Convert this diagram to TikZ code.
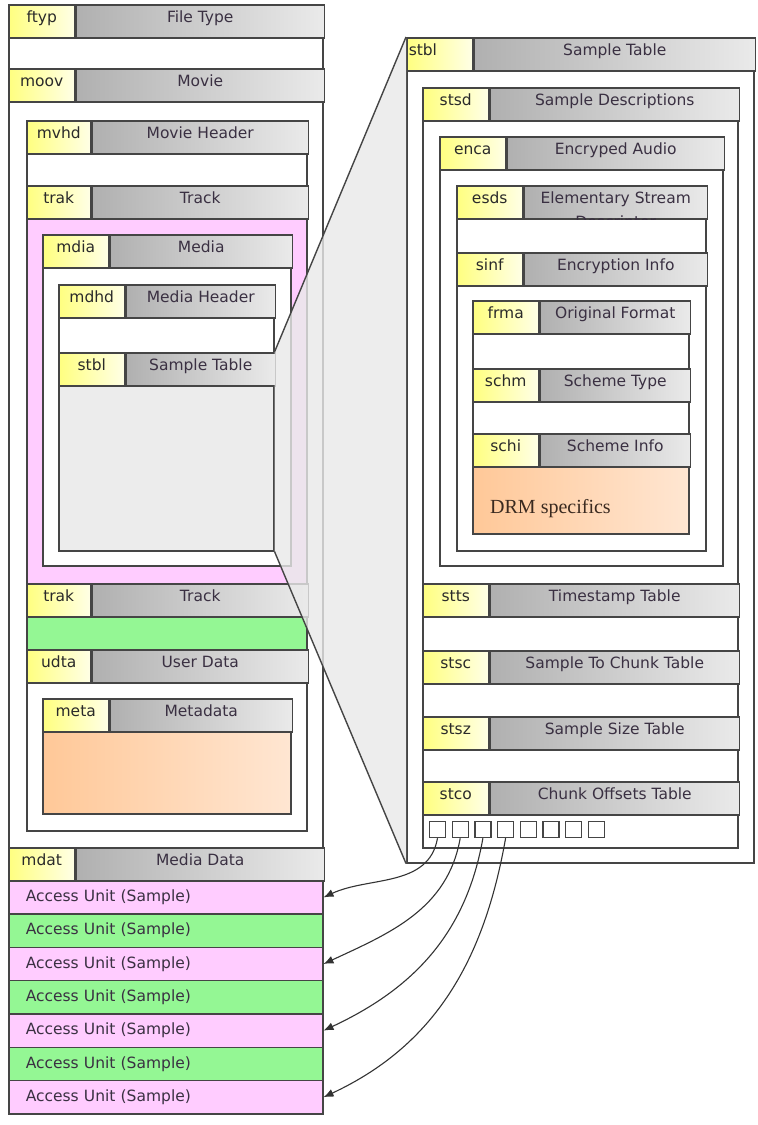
\documentclass[tikz,border=0pt]{standalone}
\usepackage{fontspec}
\setmainfont{DejaVu Sans}
\newfontfamily\drmfont{Liberation Serif}
\usetikzlibrary{arrows.meta,positioning}

\definecolor{linec}{HTML}{454545}
\definecolor{tagL}{HTML}{FFFF80}
\definecolor{tagR}{HTML}{FFFFE6}
\definecolor{headL}{HTML}{B0B0B0}
\definecolor{headR}{HTML}{EAEAEA}
\definecolor{pinkc}{HTML}{FFCCFF}
\definecolor{greenc}{HTML}{94F794}
\definecolor{stblc}{HTML}{ECECEC}
\definecolor{orL}{HTML}{FFC898}
\definecolor{orR}{HTML}{FFE6D2}
\definecolor{lensc}{HTML}{E9E9E9}
\definecolor{tagtext}{HTML}{2A2A2A}
\definecolor{headtext}{HTML}{3A3042}
\definecolor{drmtext}{HTML}{3A2A20}

% body style, name, x, y, width, height, tag width, tag, title
\newcommand{\atom}[9][fill=white]{%
  \node [atomframe,#1,minimum width=#5pt,minimum height=#6pt] (#2) at (#3,#4) {};
  \node [tagcell,minimum width=#7pt] (#2-tag) at (#2.north west) {#8};
  \node [headcell,minimum width=#5pt-#7pt] (#2-head) at (#2-tag.north east) {#9};
}

\begin{document}
\begin{tikzpicture}
  [x=1pt,y=-1pt,every node/.style={font=\fontsize{15.5}{17}\selectfont},
   atomframe/.style={draw=linec,line width=1.5pt,anchor=north west,inner sep=0pt},
   tagcell/.style={atomframe,minimum height=33pt,left color=tagL,right color=tagR,text=tagtext,text height=8pt,text depth=5pt},
   headcell/.style={atomframe,minimum height=33pt,left color=headL,right color=headR,text=headtext,text height=8pt,text depth=5pt},
   unit/.style={atomframe,minimum width=314pt,minimum height=33.3pt,text width=280pt,inner xsep=17pt,align=left,text=headtext},
   slot/.style={draw=linec,line width=1.4pt,fill=white,minimum size=16pt,inner sep=0pt},
   lens/.style={fill=lensc,fill opacity=.8},
   zoomline/.style={draw=linec,line width=1.4pt},
   link/.style={draw=black!80,line width=1.1pt,-{Latex[length=10pt,width=8pt]}}]
  \useasboundingbox [fill=white] (0,0) rectangle (758,1125);

  % file layout
  \atom{ftyp}{8}{4}{314}{64}{66}{ftyp}{File Type}
  \atom{moov}{8}{68}{314}{779}{66}{moov}{Movie}
  \atom{mvhd}{26}{120}{280}{65}{64}{mvhd}{Movie Header}
  \atom[fill=pinkc]{trak}{26}{185}{280}{398}{64}{trak}{Track}
  \atom{mdia}{42}{234}{248}{331}{66}{mdia}{Media}
  \atom{mdhd}{58}{284}{215}{68}{66}{mdhd}{Media Header}
  \atom[fill=stblc]{stbl}{58}{352}{215}{198}{66}{stbl}{Sample Table}
  \atom[fill=greenc]{trakb}{26}{583}{280}{66}{64}{trak}{Track}
  \atom{udta}{26}{649}{280}{181}{64}{udta}{User Data}
  \atom[left color=orL,right color=orR]{meta}{42}{698}{248}{115}{66}{meta}{Metadata}
  \atom{mdat}{8}{847}{314}{266}{66}{mdat}{Media Data}

  \foreach \i/\c in {1/pinkc,2/greenc,3/pinkc,4/greenc,5/pinkc,6/greenc,7/pinkc}
    \node [unit,fill=\c] (au\i) at (8,{880+33.3*(\i-1)}) {Access Unit (Sample)};

  % sample table
  \begin{scope}[tagcell/.append style={text width=62pt,align=left}]
    \atom{stblx}{406}{37}{347}{825}{66}{stbl}{Sample Table}
  \end{scope}
  \atom{stsd}{422}{87}{315}{496}{66}{stsd}{Sample Descriptions}
  \atom{enca}{439}{136}{283}{429}{66}{enca}{Encryped Audio}
  \atom{esds}{456}{185}{249}{67}{66}{esds}{}
  \begin{scope}
    \clip (esds-head.north west) rectangle (esds-head.south east);
    \node [anchor=north,align=center,text=headtext,inner sep=0pt,yshift=-7pt,font=\fontsize{15.5}{24}\selectfont] (esds-text) at (esds-head.north) {Elementary Stream\\Descriptor};
  \end{scope}
  \atom{sinf}{456}{252}{249}{298}{66}{sinf}{Encryption Info}
  \atom{frma}{472}{300}{216}{68}{66}{frma}{Original Format}
  \atom{schm}{472}{368}{216}{65}{66}{schm}{Scheme Type}
  \atom[left color=orL,right color=orR]{schi}{472}{433}{216}{100}{66}{schi}{Scheme Info}
  \node [font=\drmfont\fontsize{20}{22}\selectfont,text=drmtext,inner sep=0pt,above right=17pt and 18pt of schi.south west] (drm) {DRM specifics};
  \atom{stts}{422}{583}{315}{67}{66}{stts}{Timestamp Table}
  \atom{stsc}{422}{650}{315}{66}{66}{stsc}{Sample To Chunk Table}
  \atom{stsz}{422}{716}{315}{65}{66}{stsz}{Sample Size Table}
  \atom{stco}{422}{781}{315}{66}{66}{stco}{Chunk Offsets Table}

  \foreach \i in {1,...,8}
    \node [slot] (sq\i) at ({437.5+22.7*(\i-1)},829.5) {};

  % zoom from stbl
  \fill [lens] (stbl.north east) -- (stblx.north west) -- (stblx.south west) -- (stbl.south east) -- cycle;
  \draw [zoomline] (stbl.north east) -- (stblx.north west) (stbl.south east) -- (stblx.south west);

  \foreach \s/\a in {1/1,2/3,3/5,4/7}
    \draw [link] (sq\s.south) to [out=-100,in=25] (au\a.east);

\end{tikzpicture}
\end{document}
